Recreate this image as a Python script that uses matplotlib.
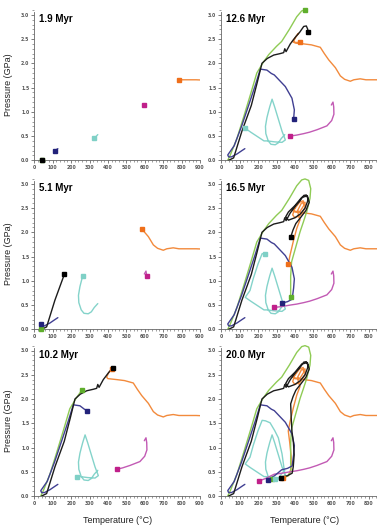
import matplotlib
matplotlib.use("Agg")
import matplotlib.pyplot as plt
from matplotlib.ticker import MultipleLocator

# snapshot labels
times = ["1.9 Myr", "12.6 Myr", "5.1 Myr", "16.5 Myr", "10.2 Myr", "20.0 Myr"]
# order of snapshots in time (index into each path's "end" list)
snap_order = [0, 3, 1, 4, 2, 5]

# P-T paths of the tracked particles (T in degC, P in GPa)
orange_T = [990, 940, 880, 830, 786, 755, 720, 701, 670, 647, 620, 584, 560, 538, 490, 448,
            400, 393, 404, 420, 410, 385, 405, 428, 448, 445, 425, 398, 388, 400, 430, 455,
            455, 435, 415, 420, 428, 410, 391, 373, 364, 372, 380, 378, 365, 335]
orange_P = [1.65, 1.65, 1.66, 1.66, 1.66, 1.68, 1.66, 1.63, 1.67, 1.74, 1.91, 2.07, 2.2, 2.33,
            2.38, 2.4, 2.42, 2.45, 2.54, 2.62, 2.57, 2.45, 2.43, 2.43, 2.55, 2.65, 2.62, 2.48,
            2.36, 2.3, 2.35, 2.5, 2.62, 2.6, 2.45, 2.33, 2.26, 2.08, 1.81, 1.52, 1.34, 1.1,
            0.8, 0.55, 0.42, 0.37]
orange_end = [4, 11, 19, 23, 40, 45]

green_T = [40, 35, 48, 85, 122, 158, 193, 228, 258, 300, 328, 370, 410, 437, 455, 475, 486,
           482, 464, 445, 428, 405, 382, 377, 377, 378, 360, 274]
green_P = [0.0, 0.0, 0.1, 0.45, 0.9, 1.35, 1.8, 2.02, 2.18, 2.35, 2.45, 2.7, 2.96, 3.08, 3.1,
           3.07, 2.9, 2.7, 2.42, 2.2, 2.01, 1.7, 1.39, 1.1, 0.67, 0.5, 0.41, 0.35]
green_end = [0, 1, 8, 14, 24, 27]

teal_T = [345, 326, 310, 293, 270, 255, 242, 240, 248, 256, 263, 276, 290, 310, 330, 348, 330,
          290, 250, 232, 200, 160, 130, 156, 174, 200, 222, 240, 265, 290, 310, 330, 346, 320, 293]
teal_P = [0.53, 0.45, 0.36, 0.32, 0.33, 0.4, 0.55, 0.7, 0.88, 1.0, 1.1, 1.26, 1.1, 0.85, 0.6,
          0.42, 0.37, 0.38, 0.4, 0.4, 0.48, 0.58, 0.66, 0.8, 1.05, 1.35, 1.56, 1.55, 1.51, 1.35,
          1.2, 0.87, 0.43, 0.36, 0.35]
teal_end = [1, 10, 19, 22, 27, 34]

magenta_T = [598, 607, 611, 612, 600, 574, 520, 480, 448, 410, 375, 330, 288, 240, 205]
magenta_P = [1.14, 1.2, 1.1, 0.95, 0.82, 0.71, 0.63, 0.58, 0.55, 0.52, 0.5, 0.47, 0.45, 0.36, 0.31]
magenta_end = [0, 2, 8, 10, 12, 14]

navy_T = [128, 112, 85, 55, 40, 35, 70, 110, 150, 185, 212, 248, 272, 288, 348, 384, 397, 393,
          385, 360, 328, 290, 252]
navy_P = [0.24, 0.2, 0.13, 0.07, 0.07, 0.11, 0.3, 0.7, 1.15, 1.55, 1.88, 1.86, 1.79, 1.76, 1.52,
          1.28, 1.04, 0.85, 0.62, 0.57, 0.54, 0.42, 0.33]
navy_end = [1, 5, 13, 17, 20, 22]

black_T = [40, 67, 112, 163, 195, 221, 250, 285, 320, 339, 345, 352, 375, 405, 426, 448, 462, 470,
           469, 455, 430, 400, 365, 350, 365, 400, 437, 468, 478, 460, 430, 405, 390, 377, 380,
           384, 392, 396, 391, 385, 360, 323]
black_P = [0.0, 0.05, 0.6, 1.13, 1.6, 2.0, 2.1, 2.17, 2.2, 2.22, 2.3, 2.24, 2.4, 2.55, 2.64, 2.76,
           2.77, 2.7, 2.64, 2.5, 2.38, 2.3, 2.25, 2.32, 2.42, 2.55, 2.72, 2.75, 2.62, 2.45, 2.3,
           2.18, 2.05, 1.9, 1.6, 1.33, 1.1, 0.85, 0.6, 0.47, 0.42, 0.38]
black_end = [0, 3, 14, 18, 33, 41]

particles = [
    (orange_T, orange_P, orange_end, "#f28a3c", "#ef6f1a"),
    (green_T, green_P, green_end, "#8fcb55", "#5fae2c"),
    (teal_T, teal_P, teal_end, "#84d3ca", "#7fd0c6"),
    (magenta_T, magenta_P, magenta_end, "#c25ab4", "#c0208a"),
    (navy_T, navy_P, navy_end, "#403f92", "#22227a"),
    (black_T, black_P, black_end, "#1c1c1c", "#000000"),
]

###

W, H = 377.0, 525.0
px_per_T = 0.184
px_per_P = 48.5
xmax, ymax = 900, 3.1
col_x0 = [34.3, 221.3]
row_y0 = [160.3, 329.3, 496.0]

fig = plt.figure(figsize=(W / 100, H / 100), dpi=100)

for k in range(6):
    row, col = k // 2, k % 2
    left = col_x0[col] / W
    bottom = (H - row_y0[row]) / H
    ax = fig.add_axes([left, bottom, xmax * px_per_T / W, ymax * px_per_P / H])
    ax.set_xlim(0, xmax)
    ax.set_ylim(0, ymax)
    ax.patch.set_alpha(0)

    s = snap_order[k]
    for T, P, end, lc, mc in particles:
        n = end[s] + 1
        ax.plot(T[:n], P[:n], color=lc, lw=1.0, solid_capstyle="round", clip_on=(col == 0))
        ax.plot(T[n - 1], P[n - 1], marker="s", ms=3.0, color=mc, mec=mc,
                linestyle="none", clip_on=False, zorder=5)

    for side in ["top", "right"]:
        ax.spines[side].set_visible(False)
    for side in ["left", "bottom"]:
        ax.spines[side].set_color("#666666")
        ax.spines[side].set_linewidth(0.6)
    ax.spines["left"].set_bounds(0, 3.05)

    # right column is cropped at the figure edge, so its last label is dropped
    last = 900 if col == 0 else 800
    ax.set_xticks(list(range(0, last + 1, 100)))
    ax.xaxis.set_minor_locator(MultipleLocator(20))
    ax.yaxis.set_minor_locator(MultipleLocator(0.1))
    ax.set_yticks([0, 0.5, 1.0, 1.5, 2.0, 2.5, 3.0])
    ax.set_yticklabels(["0.0", "0.5", "1.0", "1.5", "2.0", "2.5", "3.0"])
    ax.tick_params(which="major", length=2, width=0.6, color="#666666",
                   labelsize=3.3, labelcolor="#555555", pad=1.5)
    ax.tick_params(which="minor", length=1.2, width=0.5, color="#777777")
    for lab in ax.get_xticklabels() + ax.get_yticklabels():
        lab.set_fontweight("bold")

    ax.text(0.03, 0.94, times[k], transform=ax.transAxes, fontsize=7,
            fontweight="bold", family="Liberation Sans", va="center", ha="left")

    if col == 0:
        ax.set_ylabel("Pressure (GPa)", fontsize=6.5, family="Liberation Sans", color="#222222")
        ax.yaxis.set_label_coords(-0.13, 0.5)
    if row == 2:
        ax.set_xlabel("Temperature (\u00b0C)", fontsize=6.5, family="Liberation Sans",
                      color="#222222")
        ax.xaxis.set_label_coords(0.505, -0.13)

fig.savefig("out.png", dpi=100)
